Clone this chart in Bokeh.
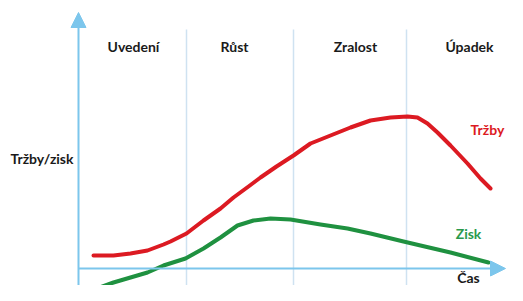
from bokeh.plotting import figure
from bokeh.models import Range1d, Arrow, NormalHead, Label
from bokeh.embed import file_html
from bokeh.resources import INLINE

# time (horizontal) and value (vertical) in arbitrary units; origin at axis crossing
phase_names = ["Uvedení", "Růst", "Zralost", "Úpadek"]
phase_label_t = [55, 156, 277, 391]
phase_bounds = [108, 215, 328]

sales_t = [15, 35, 52, 69, 85, 92, 108, 125, 142, 155, 170, 182, 198, 215, 232, 252, 272, 292,
           312, 329, 339, 349, 359, 372, 389, 402, 412]
sales_v = [13, 13, 15, 18, 24, 27, 35, 48, 60, 71, 82, 91, 102, 113, 125, 133, 141, 148,
           151, 152, 151, 145, 136, 123, 105, 90, 80]

profit_t = [21, 35, 52, 69, 85, 107, 125, 142, 159, 175, 192, 212, 242, 269, 292, 325, 342, 372, 410]
profit_v = [-19, -14, -9, -4, 3, 10, 20, 31, 43, 48, 50, 49, 44, 40, 35, 27, 23, 16, 6]

AXIS = "#7cc6ec"
DIV = "#cfe2f1"
RED = "#dc1a22"
GREEN = "#1f9140"
FONT = "Lato"
FS = "14px"

p = figure(width=507, height=285, x_range=Range1d(-78, 429), y_range=Range1d(-17, 268),
           x_axis_type=None, y_axis_type=None, toolbar_location=None,
           output_backend="svg", min_border=0)
p.grid.visible = False
p.outline_line_color = None
p.background_fill_color = "white"
p.border_fill_color = "white"

# phase dividers
for b in phase_bounds:
    p.line([b, b], [239, -40], line_color=DIV, line_width=1.5)

# axes with arrows
p.add_layout(Arrow(end=NormalHead(size=15, fill_color=AXIS, line_color=AXIS),
                   x_start=0, y_start=-40, x_end=0, y_end=256,
                   line_color=AXIS, line_width=2))
p.add_layout(Arrow(end=NormalHead(size=15, fill_color=AXIS, line_color=AXIS),
                   x_start=0, y_start=0, x_end=427, y_end=0,
                   line_color=AXIS, line_width=2))

# curves
p.line(sales_t, sales_v, line_color=RED, line_width=4, line_cap="round", line_join="round")
p.line(profit_t, profit_v, line_color=GREEN, line_width=4, line_cap="round", line_join="round")

# phase labels
for name, t in zip(phase_names, phase_label_t):
    p.add_layout(Label(x=t, y=222, text=name, text_align="center", text_baseline="middle",
                       text_font=FONT, text_font_style="bold", text_font_size=FS,
                       text_color="#1a1a1a"))

p.add_layout(Label(x=-5, y=110, text="Tržby/zisk", text_align="right", text_baseline="middle",
                   text_font=FONT, text_font_style="bold", text_font_size=FS, text_color="#1a1a1a"))
p.add_layout(Label(x=409, y=139, text="Tržby", text_align="center", text_baseline="middle",
                   text_font=FONT, text_font_style="bold", text_font_size=FS, text_color=RED))
p.add_layout(Label(x=390, y=35, text="Zisk", text_align="center", text_baseline="middle",
                   text_font=FONT, text_font_style="bold", text_font_size=FS, text_color="#2a9a4c"))
p.add_layout(Label(x=390, y=-9, text="Čas", text_align="center", text_baseline="middle",
                   text_font=FONT, text_font_style="bold", text_font_size=FS, text_color="#1a1a1a"))

open("out.html", "w").write(file_html(p, INLINE))
